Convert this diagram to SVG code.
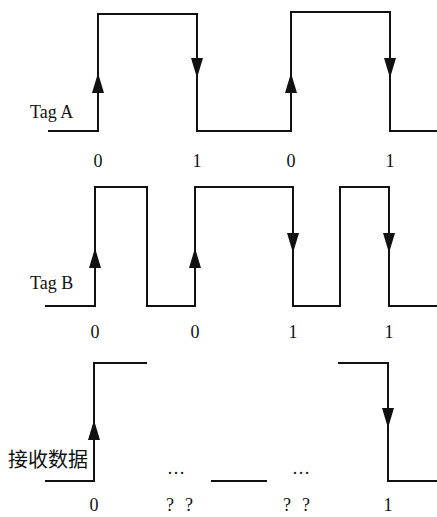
<svg xmlns="http://www.w3.org/2000/svg" width="437" height="517" viewBox="0 0 437 517">
<defs>
<style>
.w{fill:none;stroke:#111;stroke-width:2;stroke-linejoin:miter}
.a{fill:#111;stroke:none}
.t{font-family:"Liberation Serif","Noto Sans CJK SC",serif;fill:#111}
.n{font-family:"Liberation Serif",serif;font-size:18px;fill:#111;text-anchor:middle}
</style>
</defs>
<g id="connectors">
<polyline class="w" points="48,131 98,131 98,14 197,14 197,131 291,131 291,12 390,12 390,131 437,131"/>
<polyline class="w" points="45,306 95,306 95,187 147,187 147,306 195,306 195,187 293,187 293,306 340,306 340,187 389,187 389,306 437,306"/>
<polyline class="w" points="45,481 94,481 94,363 147,363"/>
<line class="w" x1="211" y1="481" x2="267" y2="481"/>
<polyline class="w" points="338,363 388,363 388,481 437,481"/>
<g id="arrows">
<polygon class="a" points="98,73 92,93 104,93"/>
<polygon class="a" points="197,78 191,58 203,58"/>
<polygon class="a" points="291,73 285,93 297,93"/>
<polygon class="a" points="390,78 384,58 396,58"/>
<polygon class="a" points="95,248 89,268 101,268"/>
<polygon class="a" points="195,248 189,268 201,268"/>
<polygon class="a" points="293,253 287,233 299,233"/>
<polygon class="a" points="389,253 383,233 395,233"/>
<polygon class="a" points="94,420 88,440 100,440"/>
<polygon class="a" points="388,428 382,408 394,408"/>
</g>
</g>
<g id="tagA">
<text class="t" x="30" y="118" font-size="18">Tag A</text>
<text class="n" x="98" y="167">0</text>
<text class="n" x="197" y="167">1</text>
<text class="n" x="291" y="167">0</text>
<text class="n" x="390" y="167">1</text>
</g>
<g id="tagB">
<text class="t" x="30" y="289" font-size="18">Tag B</text>
<text class="n" x="95" y="338">0</text>
<text class="n" x="195" y="338">0</text>
<text class="n" x="293" y="338">1</text>
<text class="n" x="389" y="338">1</text>
</g>
<g id="received">
<text class="t" x="8" y="467" font-size="20">接收数据</text>
<text class="n" x="176" y="474">…</text>
<text class="n" x="301" y="474">…</text>
<text class="n" x="94" y="511">0</text>
<text class="n" x="170" y="511">?</text>
<text class="n" x="189" y="511">?</text>
<text class="n" x="287" y="511">?</text>
<text class="n" x="306" y="511">?</text>
<text class="n" x="388" y="511">1</text>
</g>
</svg>
